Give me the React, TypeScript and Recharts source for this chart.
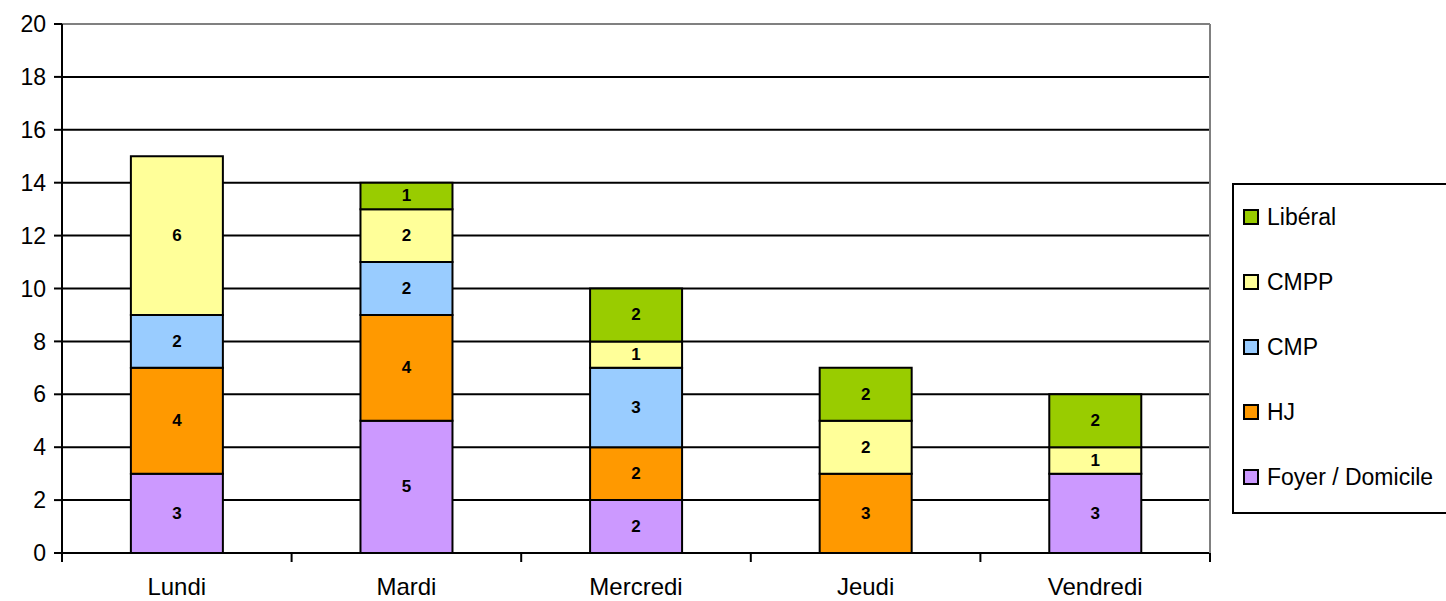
import React from "react";
import {
  BarChart,
  Bar,
  XAxis,
  YAxis,
  CartesianGrid,
  Legend,
  LabelList,
  ReferenceLine,
} from "recharts";

const days = ["Lundi", "Mardi", "Mercredi", "Jeudi", "Vendredi"];
const foyer = [3, 5, 2, 0, 3];
const hj = [4, 4, 2, 3, 0];
const cmp = [2, 2, 3, 0, 0];
const cmpp = [6, 2, 1, 2, 1];
const liberal = [0, 1, 2, 2, 2];
const yTicks = [0, 2, 4, 6, 8, 10, 12, 14, 16, 18, 20];

const series = [
  { key: "foyer", name: "Foyer / Domicile", color: "#CC99FF" },
  { key: "hj", name: "HJ", color: "#FF9900" },
  { key: "cmp", name: "CMP", color: "#99CCFF" },
  { key: "cmpp", name: "CMPP", color: "#FFFF99" },
  { key: "liberal", name: "Libéral", color: "#99CC00" },
];

const data = days.map((day, i) => ({
  day,
  foyer: foyer[i],
  hj: hj[i],
  cmp: cmp[i],
  cmpp: cmpp[i],
  liberal: liberal[i],
}));

const W = 1446;
const H = 601;
const PLOT_LEFT = 62;
const PLOT_RIGHT = 1210;
const FONT = "Arial, 'Liberation Sans', sans-serif";
const step = (PLOT_RIGHT - PLOT_LEFT) / days.length;

const DayTick = (props: any) => {
  const { x, y, payload, index } = props;
  const left = x - step / 2;
  return (
    <g>
      <line x1={left} y1={y} x2={left} y2={y + 9} stroke="#000" strokeWidth={2} />
      {index === days.length - 1 && (
        <line x1={x + step / 2} y1={y} x2={x + step / 2} y2={y + 9} stroke="#000" strokeWidth={2} />
      )}
      <text x={x} y={y + 42} textAnchor="middle" fontSize={24} fontFamily={FONT} fill="#000">
        {payload.value}
      </text>
    </g>
  );
};

const renderLabel = (props: any) => {
  const { x, y, width, height, value } = props;
  if (!value) return null;
  return (
    <text
      x={x + width / 2}
      y={y + height / 2}
      textAnchor="middle"
      dominantBaseline="central"
      fontSize={17}
      fontWeight="bold"
      fontFamily={FONT}
      fill="#000"
    >
      {value}
    </text>
  );
};

const LegendBox = () => {
  const items = [...series].reverse();
  return (
    <div
      style={{
        position: "absolute",
        left: 1232,
        top: 183,
        width: 230,
        height: 331,
        border: "2px solid #000",
        boxSizing: "border-box",
        background: "#fff",
        fontFamily: FONT,
        fontSize: 23,
      }}
    >
      {items.map((s, i) => (
        <div
          key={s.key}
          style={{
            position: "absolute",
            left: 9,
            top: 17 + i * 65,
            display: "flex",
            alignItems: "center",
            whiteSpace: "nowrap",
            color: "#000",
            lineHeight: "30px",
          }}
        >
          <span
            style={{
              display: "inline-block",
              width: 12,
              height: 12,
              border: "2px solid #000",
              background: s.color,
              marginRight: 8,
            }}
          />
          {s.name}
        </div>
      ))}
    </div>
  );
};

export default function App() {
  return (
    <div style={{ position: "absolute", left: 0, top: 0, width: W, height: H, overflow: "hidden", background: "#fff" }}>
      <BarChart
        width={W}
        height={H}
        data={data}
        margin={{ top: 24, right: W - PLOT_RIGHT - 1, left: 0, bottom: 0 }}
        barCategoryGap="30%"
      >
        <CartesianGrid horizontal vertical={false} stroke="#000" strokeWidth={2} />
        <XAxis
          dataKey="day"
          height={48}
          axisLine={{ stroke: "#000", strokeWidth: 2 }}
          tickLine={false}
          tickSize={0}
          tickMargin={0}
          tick={<DayTick />}
          interval={0}
        />
        <YAxis
          domain={[0, 20]}
          ticks={yTicks}
          width={PLOT_LEFT}
          axisLine={{ stroke: "#000", strokeWidth: 2 }}
          tickLine={{ stroke: "#000", strokeWidth: 2 }}
          tickSize={8}
          tickMargin={8}
          tick={{ fontSize: 23, fontFamily: FONT, fill: "#000" }}
          interval={0}
        />
        <YAxis
          yAxisId="r"
          orientation="right"
          width={1}
          tick={false}
          tickLine={false}
          axisLine={{ stroke: "#808080", strokeWidth: 2 }}
        />
        <ReferenceLine y={20} stroke="#808080" strokeWidth={2} />
        <Legend content={() => null} />
        {series.map((s) => (
          <Bar
            key={s.key}
            dataKey={s.key}
            name={s.name}
            stackId="a"
            fill={s.color}
            stroke="#000"
            strokeWidth={2}
            isAnimationActive={false}
          >
            <LabelList dataKey={s.key} content={renderLabel} />
          </Bar>
        ))}
      </BarChart>
      <LegendBox />
    </div>
  );
}
